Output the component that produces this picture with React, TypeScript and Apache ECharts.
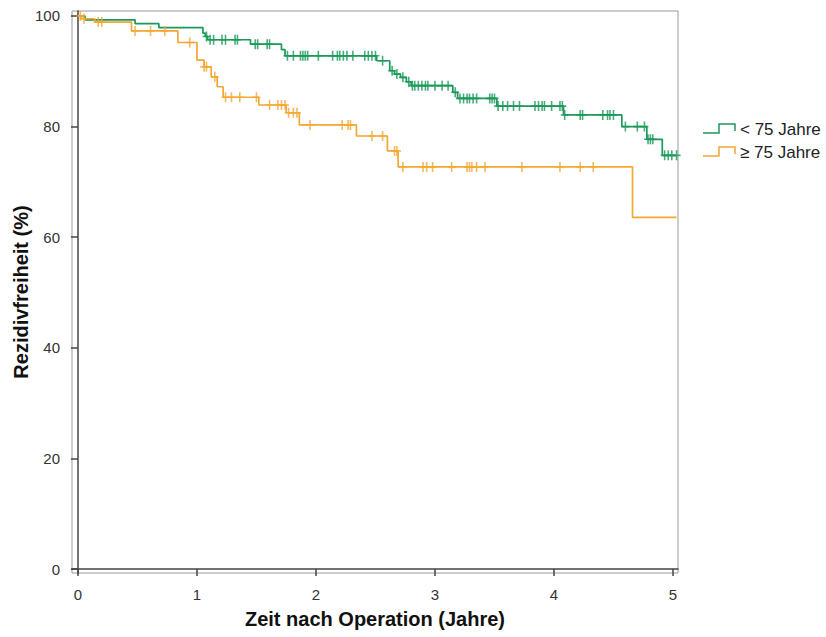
import React, { useEffect, useRef } from "react";
import * as echarts from "echarts";

// Kaplan-Meier step curves: time (years) and recurrence-free survival (%)
const youngTimes = [0, 0.06, 0.48, 0.68, 1.05, 1.07, 1.09, 1.45, 1.71, 1.74, 2.51, 2.62, 2.66, 2.71, 2.76, 2.8, 3.15, 3.19, 3.52, 4.08, 4.57, 4.78, 4.91, 5.03];
const youngSurv = [100, 99.3, 98.6, 97.9, 96.9, 96.3, 95.7, 94.9, 93.9, 92.8, 91.9, 90.1, 89.5, 88.9, 88.1, 87.4, 86.2, 85.1, 83.7, 82.1, 80.0, 77.7, 74.8, 74.8];

const oldTimes = [0, 0.03, 0.14, 0.45, 0.84, 1.0, 1.06, 1.12, 1.17, 1.22, 1.52, 1.75, 1.86, 2.34, 2.6, 2.69, 4.66, 5.03];
const oldSurv = [100, 99.5, 98.9, 97.3, 95.2, 92.0, 90.8, 89.0, 87.2, 85.3, 83.9, 82.5, 80.3, 78.3, 75.6, 72.7, 63.6, 63.6];

// Censored observations (years)
const youngCensored = [
  1.08, 1.11, 1.14, 1.21, 1.24, 1.32, 1.34, 1.49, 1.51, 1.59, 1.61,
  1.76, 1.81, 1.87, 1.89, 1.91, 1.93, 2.02, 2.14, 2.18, 2.2, 2.23, 2.26, 2.31, 2.41, 2.44, 2.47, 2.5,
  2.56, 2.64, 2.68, 2.73, 2.78,
  2.81, 2.83, 2.86, 2.89, 2.92, 2.94, 3.0, 3.06, 3.11, 3.17,
  3.21, 3.24, 3.27, 3.29, 3.32, 3.35, 3.46, 3.48, 3.5,
  3.53, 3.57, 3.61, 3.66, 3.71, 3.84, 3.87, 3.9, 3.92, 3.98, 4.05, 4.07,
  4.09, 4.22, 4.24, 4.41, 4.45, 4.47, 4.5,
  4.6, 4.7, 4.76, 4.79, 4.81, 4.83, 4.93, 4.96, 4.99, 5.03,
];
const oldCensored = [
  0.02, 0.05, 0.17, 0.2, 0.48, 0.61, 0.73, 0.94, 1.06, 1.08, 1.15,
  1.24, 1.29, 1.36, 1.5, 1.61, 1.68, 1.71, 1.74, 1.77, 1.81, 1.84,
  1.95, 2.22, 2.27, 2.29, 2.47, 2.56, 2.66, 2.68,
  2.73, 2.9, 2.93, 2.98, 3.14, 3.27, 3.29, 3.31, 3.35, 3.42, 3.73, 4.05, 4.22, 4.33,
];

const xTicks = [0, 1, 2, 3, 4, 5];
const yTicks = [0, 20, 40, 60, 80, 100];

const groupNames = ["< 75 Jahre", "\u2265 75 Jahre"];
const GREEN = "#1c995a";
const ORANGE = "#f4a733";
const FONT = "'Liberation Sans', Arial, sans-serif";

const stepPairs = (t: number[], s: number[]) => t.map((v, i) => [v, s[i]]);

// survival value of a step curve at time x
const survAt = (t: number[], s: number[], x: number) => {
  let v = s[0];
  for (let i = 0; i < t.length; i++) if (t[i] <= x) v = s[i];
  return v;
};

// "+" censor mark
const PLUS = "path://M3.2,0h1.6v4.2h3.2v1.6h-3.2v4.2h-1.6v-4.2h-3.2v-1.6h3.2z";

export default function App() {
  const ref = useRef<HTMLDivElement>(null);

  useEffect(() => {
    if (!ref.current) return;
    const chart = echarts.init(ref.current, undefined, { renderer: "svg" });

    const legendItem = (y: number, color: string, label: string) => [
      {
        type: "polyline",
        shape: { points: [[703, y + 4], [719, y + 4], [719, y - 5], [735, y - 5], [735, y + 2]] },
        style: { stroke: color, lineWidth: 1.5, fill: null },
      },
      {
        type: "text",
        x: 740,
        y,
        style: { text: label, font: `17px ${FONT}`, fill: "#222", verticalAlign: "middle" },
      },
    ];

    chart.setOption({
      animation: false,
      grid: {
        left: 72,
        right: 148,
        top: 11,
        bottom: 64,
        containLabel: false,
        outerBoundsMode: "none",
        show: true,
        borderColor: "#9a9a9a",
        borderWidth: 1,
        backgroundColor: "transparent",
      },
      xAxis: {
        type: "value",
        min: -0.05,
        max: 5.042,
        name: "Zeit nach Operation (Jahre)",
        nameLocation: "middle",
        nameGap: 36,
        nameTextStyle: { fontFamily: FONT, fontWeight: "bold", fontSize: 20, color: "#111" },
        axisLine: { show: true, lineStyle: { color: "#444", width: 1.5 } },
        axisTick: { show: true, length: 7, customValues: xTicks, lineStyle: { color: "#444", width: 1.5 } },
        axisLabel: { customValues: xTicks, margin: 14, fontFamily: FONT, fontSize: 15, color: "#333" },
        splitLine: { show: false },
      },
      yAxis: {
        type: "value",
        min: -0.72,
        max: 100.9,
        name: "Rezidivfreiheit (%)",
        nameLocation: "middle",
        nameGap: 41,
        nameMoveOverlap: false,
        nameTextStyle: { fontFamily: FONT, fontWeight: "bold", fontSize: 20, color: "#111" },
        axisLine: { show: true, lineStyle: { color: "#444", width: 1.5 } },
        axisTick: { show: true, length: 7, customValues: yTicks, lineStyle: { color: "#444", width: 1.5 } },
        axisLabel: { customValues: yTicks, margin: 12, fontFamily: FONT, fontSize: 15, color: "#333" },
        splitLine: { show: false },
      },
      series: [
        {
          name: groupNames[0],
          type: "line",
          step: "end",
          data: stepPairs(youngTimes, youngSurv),
          showSymbol: false,
          lineStyle: { color: GREEN, width: 1.7 },
          z: 2,
        },
        {
          name: groupNames[0] + " zensiert",
          type: "scatter",
          data: youngCensored.map((t) => [t, survAt(youngTimes, youngSurv, t)]),
          symbol: PLUS,
          symbolSize: [8, 10],
          itemStyle: { color: GREEN },
          z: 3,
        },
        {
          name: groupNames[1],
          type: "line",
          step: "end",
          data: stepPairs(oldTimes, oldSurv),
          showSymbol: false,
          lineStyle: { color: ORANGE, width: 1.7 },
          z: 4,
        },
        {
          name: groupNames[1] + " zensiert",
          type: "scatter",
          data: oldCensored.map((t) => [t, survAt(oldTimes, oldSurv, t)]),
          symbol: PLUS,
          symbolSize: [8, 10],
          itemStyle: { color: ORANGE },
          z: 5,
        },
      ],
      graphic: [...legendItem(129, GREEN, groupNames[0]), ...legendItem(152, ORANGE, groupNames[1])],
    });

    return () => chart.dispose();
  }, []);

  return (
    <div
      ref={ref}
      style={{ position: "fixed", left: 0, top: 0, width: 826, height: 637, background: "#fff" }}
    />
  );
}
